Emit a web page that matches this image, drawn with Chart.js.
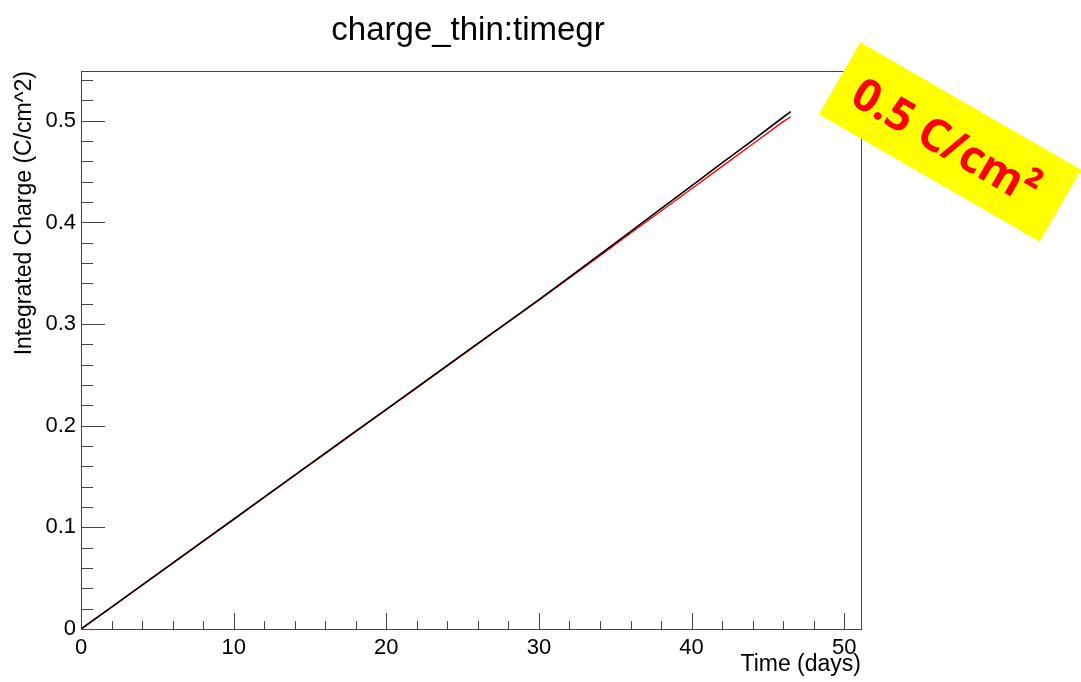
<!DOCTYPE html>
<html>
<head>
<meta charset="utf-8">
<script src="https://cdn.jsdelivr.net/npm/chart.js@4.4.1/dist/chart.umd.min.js"></script>
<style>
  html, body { margin: 0; padding: 0; background: #fff; }
  #wrap { width: 1081px; height: 682px; position: relative; }
</style>
</head>
<body>
<div id="wrap"><canvas id="c" width="1081" height="682"></canvas></div>
<script>
// Integrated charge vs. time, two measurements
const days = [0, 2, 4, 6, 8, 10, 12, 14, 16, 18, 20, 22, 24, 26, 28, 30, 32, 34, 36, 38, 40, 42, 44, 46, 46.5];
const chargeBlack = [0, 0.0216, 0.0432, 0.0649, 0.0865, 0.108, 0.1297, 0.1513, 0.173, 0.1946, 0.216, 0.2377, 0.2593, 0.281, 0.3025, 0.324, 0.3462, 0.3685, 0.391, 0.4135, 0.436, 0.4585, 0.4808, 0.5035, 0.509];
const chargeRed = [0, 0.0214, 0.043, 0.0646, 0.0862, 0.1077, 0.1294, 0.151, 0.1726, 0.1942, 0.2157, 0.2373, 0.2589, 0.2805, 0.302, 0.3234, 0.3454, 0.3674, 0.3894, 0.4113, 0.4332, 0.4552, 0.4772, 0.4992, 0.504];

const xTickLabels = ['0', '10', '20', '30', '40', '50'];
const yTickLabels = ['0', '0.1', '0.2', '0.3', '0.4', '0.5'];

const titleText = 'charge_thin:timegr';
const xTitle = 'Time (days)';
const yTitle = 'Integrated Charge (C/cm^2)';
const badgeText = '0.5 C/cm\u00B2';

const FONT = '"Liberation Sans", Arial, Helvetica, sans-serif';

function toPoints(xs, ys) { return xs.map((x, i) => ({ x: x, y: ys[i] })); }

function isMajor(v, step) {
  const r = v / step;
  return Math.abs(r - Math.round(r)) < 1e-6;
}

// Frame and inward-pointing tick marks
const frameTicks = {
  id: 'frameTicks',
  afterDatasetsDraw(chart) {
    const { ctx, chartArea: a, scales } = chart;
    ctx.save();
    ctx.strokeStyle = '#444';
    ctx.lineWidth = 1;
    ctx.beginPath();
    const xs = scales.x;
    xs.ticks.forEach(t => {
      const px = Math.round(xs.getPixelForValue(t.value)) + 0.5;
      const len = isMajor(t.value, 10) ? 16 : 8;
      ctx.moveTo(px, a.bottom);
      ctx.lineTo(px, a.bottom - len);
    });
    const ys = scales.y;
    ys.ticks.forEach(t => {
      const py = Math.round(ys.getPixelForValue(t.value)) + 0.5;
      const len = isMajor(t.value, 0.1) ? 24 : 12;
      ctx.moveTo(a.left, py);
      ctx.lineTo(a.left + len, py);
    });
    ctx.stroke();
    ctx.strokeRect(Math.round(a.left) + 0.5, Math.round(a.top) + 0.5,
                   Math.round(a.right - a.left), Math.round(a.bottom - a.top));
    ctx.restore();
  },
  afterDraw(chart) {
    // rotated yellow badge in the top right corner
    const { ctx } = chart;
    ctx.save();
    ctx.translate(950, 142);
    ctx.rotate(30 * Math.PI / 180);
    ctx.fillStyle = '#ffff00';
    ctx.fillRect(-127.5, -41.5, 255, 83);
    ctx.fillStyle = '#ff0000';
    ctx.font = 'bold 45px "Open Sans", Lato, sans-serif';
    ctx.textAlign = 'center';
    ctx.textBaseline = 'middle';
    ctx.fillText(badgeText, -4, 4);
    ctx.restore();
  }
};

new Chart(document.getElementById('c'), {
  type: 'scatter',
  data: {
    datasets: [
      { data: toPoints(days, chargeBlack), borderColor: '#000000', borderWidth: 1.6, showLine: true, pointRadius: 0, tension: 0, yAxisID: 'y' },
      { data: toPoints(days, chargeRed), borderColor: '#ff0000', borderWidth: 1.4, showLine: true, pointRadius: 0, tension: 0, yAxisID: 'y' }
    ]
  },
  options: {
    responsive: false,
    animation: false,
    devicePixelRatio: 1,
    layout: { padding: { left: 0, right: 145, top: 0, bottom: 0 } },
    plugins: {
      legend: { display: false },
      tooltip: { enabled: false },
      title: {
        display: true,
        text: titleText,
        color: '#000',
        font: { family: FONT, size: 33, weight: 'normal' },
        padding: { top: 11, bottom: 20.4 }
      }
    },
    scales: {
      x: {
        type: 'linear',
        min: 0,
        max: 51.1,
        grid: { display: false, drawTicks: false },
        border: { display: false },
        ticks: {
          stepSize: 2,
          autoSkip: false,
          includeBounds: false,
          maxRotation: 0,
          padding: 6,
          color: '#000',
          font: { family: FONT, size: 22 },
          callback: v => isMajor(v, 10) ? xTickLabels[Math.round(v / 10)] : ''
        },
        title: {
          display: true,
          text: xTitle,
          align: 'end',
          color: '#000',
          font: { family: FONT, size: 23 },
          padding: { top: 0, bottom: 4 }
        },
        afterFit: s => { s.height = 53; }
      },
      y: {
        type: 'linear',
        position: 'left',
        min: 0,
        max: 0.549,
        grid: { display: false, drawTicks: false },
        border: { display: false },
        ticks: {
          stepSize: 0.02,
          autoSkip: false,
          includeBounds: false,
          padding: 5,
          color: '#000',
          font: { family: FONT, size: 22 },
          callback: v => isMajor(v, 0.1) ? yTickLabels[Math.round(v / 0.1)] : ''
        },
        title: {
          display: true,
          text: yTitle,
          align: 'end',
          color: '#000',
          font: { family: FONT, size: 23 },
          padding: { top: 11, bottom: 0 }
        },
        afterFit: s => { s.width = 81; }
      },
      // empty right-hand margin so the plot area ends where the badge begins
      yMargin: {
        type: 'linear',
        position: 'right',
        display: true,
        grid: { display: false, drawTicks: false },
        border: { display: false },
        ticks: { display: false },
        afterFit: s => { s.width = 75; }
      }
    }
  },
  plugins: [frameTicks]
});
</script>
</body>
</html>
